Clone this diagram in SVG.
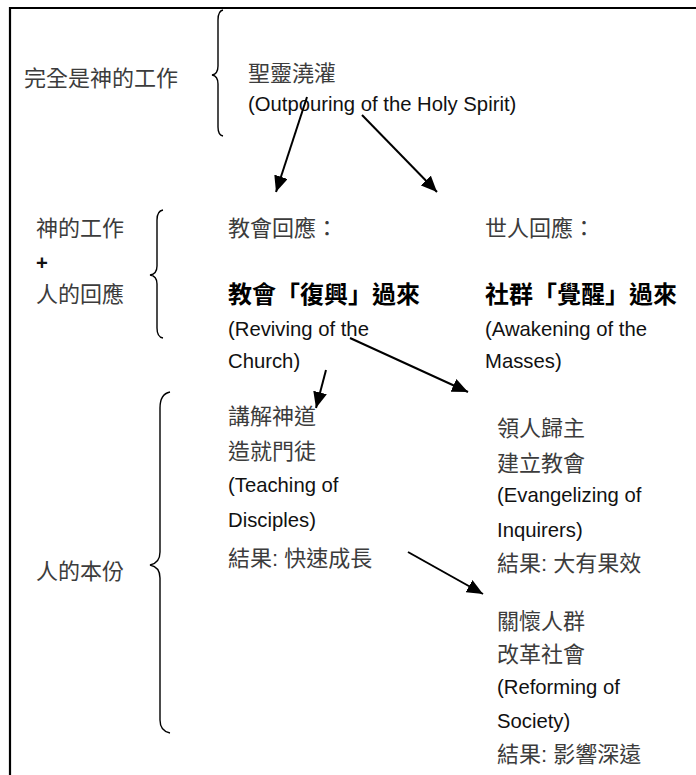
<svg xmlns="http://www.w3.org/2000/svg" width="696" height="775" viewBox="0 0 696 775">
<style>
.cj{font-family:"Liberation Sans","Noto Sans CJK TC",sans-serif;font-size:22px;fill:#3c3c3c}
.en{font-family:"Liberation Sans","Noto Sans CJK TC",sans-serif;font-size:20.3px;fill:#111}
.bd{font-family:"Liberation Sans","Noto Sans CJK TC",sans-serif;font-size:24px;font-weight:bold;fill:#000}
.br{fill:none;stroke:#000;stroke-width:1.4}
.ar{stroke:#000;stroke-width:2;fill:none;marker-end:url(#ah)}
</style>
<defs>
<marker id="ah" markerUnits="userSpaceOnUse" markerWidth="17" markerHeight="14" refX="16" refY="7" orient="auto">
<path d="M0,0 L16,7 L0,14 Z" fill="#000"/>
</marker>
</defs>
<rect width="696" height="775" fill="#fff"/>
<g id="frame">
<path d="M10,775 L10,8 L696,8" fill="none" stroke="#000" stroke-width="2.2"/>
</g>
<g id="braces">
<path class="br" d="M223,10 Q218,11 218,20 L218,66 Q218,74 212,75 Q218,76 218,84 L218,127 Q218,135 223,136"/>
<path class="br" d="M163,210 Q157,211 157,220 L157,266 Q157,274 150,275 Q157,276 157,284 L157,328 Q157,337 163,338"/>
<path class="br" d="M170,392 Q160,394 160,408 L160,552 Q160,563 150,565 Q160,567 160,578 L160,720 Q160,731 170,733"/>
</g>
<g id="n-god-work"><text class="cj" x="24" y="85.5">完全是神的工作</text></g>
<g id="n-spirit">
<text class="cj" x="248" y="80.5">聖靈澆灌</text>
<text class="en" x="248" y="111">(Outpouring of the Holy Spirit)</text>
</g>
<g id="n-god-human">
<text class="cj" x="36" y="235.5">神的工作</text>
<text class="en" x="36" y="270" font-weight="bold">+</text>
<text class="cj" x="36" y="301.5">人的回應</text>
</g>
<g id="n-church">
<text class="cj" x="228" y="235.5">教會回應：</text>
<text class="bd" x="228" y="303">教會「復興」過來</text>
<text class="en" x="228" y="336">(Reviving of the</text>
<text class="en" x="228" y="368">Church)</text>
</g>
<g id="n-world">
<text class="cj" x="485" y="235.5">世人回應：</text>
<text class="bd" x="485" y="303">社群「覺醒」過來</text>
<text class="en" x="485" y="336">(Awakening of the</text>
<text class="en" x="485" y="368">Masses)</text>
</g>
<g id="n-human-part"><text class="cj" x="36" y="578.5">人的本份</text></g>
<g id="n-teaching">
<text class="cj" x="228" y="423.5">講解神道</text>
<text class="cj" x="228" y="458.5">造就門徒</text>
<text class="en" x="228" y="492">(Teaching of</text>
<text class="en" x="228" y="527">Disciples)</text>
<text class="cj" x="228" y="565.5">結果: 快速成長</text>
</g>
<g id="n-evangel">
<text class="cj" x="497" y="435.5">領人歸主</text>
<text class="cj" x="497" y="470.5">建立教會</text>
<text class="en" x="497" y="502">(Evangelizing of</text>
<text class="en" x="497" y="537">Inquirers)</text>
<text class="cj" x="497" y="570.5">結果: 大有果效</text>
</g>
<g id="n-reform">
<text class="cj" x="497" y="628.5">關懷人群</text>
<text class="cj" x="497" y="661.5">改革社會</text>
<text class="en" x="497" y="694">(Reforming of</text>
<text class="en" x="497" y="728">Society)</text>
<text class="cj" x="497" y="761.5">結果: 影響深遠</text>
</g>
<g id="connectors">
<line class="ar" x1="307" y1="97" x2="276" y2="192"/>
<line class="ar" x1="362" y1="115" x2="437" y2="192"/>
<line class="ar" x1="326" y1="370" x2="316" y2="408"/>
<line class="ar" x1="350" y1="338" x2="468" y2="392"/>
<line class="ar" x1="408" y1="552" x2="483" y2="594"/>
</g>
</svg>
